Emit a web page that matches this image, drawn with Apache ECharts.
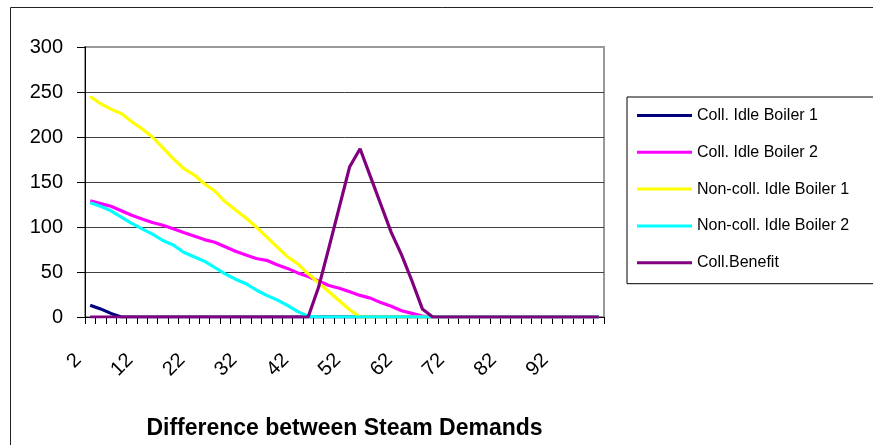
<!DOCTYPE html>
<html>
<head>
<meta charset="utf-8">
<script src="https://cdn.jsdelivr.net/npm/echarts@6/dist/echarts.min.js"></script>
<style>
  html, body { margin: 0; padding: 0; background: #ffffff; }
  #chart { width: 873px; height: 445px; }
</style>
</head>
<body>
<div id="chart"></div>
<script>
// Difference between steam demands (category axis)
const categories = [2,4,6,8,10,12,14,16,18,20,22,24,26,28,30,32,34,36,38,40,
  42,44,46,48,50,52,54,56,58,60,62,64,66,68,70,72,74,76,78,80,
  82,84,86,88,90,92,94,96,98,100];

const collIdleBoiler1 = [13,9,4,0,0,0,0,0,0,0,0,0,0,0,0,0,0,0,0,0,
  0,0,0,0,0,0,0,0,0,0,0,0,0,0,0,0,0,0,0,0,
  0,0,0,0,0,0,0,0,0,0];

const collIdleBoiler2 = [129,126,123,118,113,109,105,102,98,94,90,86,83,78,73,69,65,63,58,54,
  49,45,40,35,32,28,24,21,16,12,7,4,1,0,0,0,0,0,0,0,
  0,0,0,0,0,0,0,0,0,0];

const nonCollIdleBoiler1 = [245,237,231,226,217,209,200,188,176,165,158,148,140,128,119,110,100,89,78,67,
  59,48,38,28,18,8,0,0,0,0,0,0,0,0,0,0,0,0,0,0,
  0,0,0,0,0,0,0,0,0,0];

const nonCollIdleBoiler2 = [127,123,118,111,104,98,92,85,80,72,67,62,55,48,42,37,30,24,19,13,
  6,1,0,0,0,0,0,0,0,0,0,0,0,0,0,0,0,0,0,0,
  0,0,0,0,0,0,0,0,0,0];

const collBenefit = [0,0,0,0,0,0,0,0,0,0,0,0,0,0,0,0,0,0,0,0,
  0,0,33,77,122,167,187,156,125,94,69,40,9,0,0,0,0,0,0,0,
  0,0,0,0,0,0,0,0,0,0];

const yTicks = { min: 0, max: 300, step: 50 };

const seriesDefs = [
  { name: 'Coll. Idle Boiler 1', data: collIdleBoiler1, color: '#000080' },
  { name: 'Coll. Idle Boiler 2', data: collIdleBoiler2, color: '#FF00FF' },
  { name: 'Non-coll. Idle Boiler 1', data: nonCollIdleBoiler1, color: '#FFFF00' },
  { name: 'Non-coll. Idle Boiler 2', data: nonCollIdleBoiler2, color: '#00FFFF' },
  { name: 'Coll.Benefit', data: collBenefit, color: '#800080' }
];

const FONT = '"Liberation Sans", Arial, sans-serif';
const chart = echarts.init(document.getElementById('chart'), null, { renderer: 'canvas' });

chart.setOption({
  backgroundColor: '#ffffff',
  animation: false,
  textStyle: { fontFamily: FONT },
  graphic: [{
    type: 'rect',
    left: 8, top: 5,
    shape: { width: 1000, height: 600 },
    style: { fill: 'none', stroke: '#222', lineWidth: 1 },
    silent: true, z: 0
  }],
  grid: {
    left: 85, top: 47, width: 519, height: 270,
    containLabel: false,
    outerBoundsMode: 'none',
    show: true, borderColor: '#999', borderWidth: 2, backgroundColor: 'transparent'
  },
  legend: {
    orient: 'vertical',
    left: 627, top: 97,
    padding: [10.5, 40, 13, 10],
    icon: 'rect',
    itemWidth: 55, itemHeight: 3, itemGap: 20.8,
    borderColor: '#000', borderWidth: 1,
    textStyle: { fontFamily: FONT, fontSize: 16, color: '#000', lineHeight: 16 },
    data: seriesDefs.map(s => s.name)
  },
  xAxis: {
    type: 'category',
    data: categories,
    boundaryGap: true,
    name: 'Difference between Steam Demands',
    nameLocation: 'middle',
    nameGap: 100,
    nameTextStyle: { fontFamily: FONT, fontSize: 23, fontWeight: 'bold', color: '#000' },
    axisLine: { lineStyle: { color: '#000', width: 1 } },
    axisTick: { show: true, interval: 0, length: 7, lineStyle: { color: '#000' } },
    axisLabel: {
      interval: 4, rotate: 45, margin: 28,
      padding: [0, 17, 33, 0],
      fontFamily: FONT, fontSize: 20, color: '#000'
    },
    splitLine: { show: false }
  },
  yAxis: {
    type: 'value',
    min: yTicks.min, max: yTicks.max, interval: yTicks.step,
    axisLine: { show: true, lineStyle: { color: '#000', width: 1 } },
    axisTick: { show: true, length: 8, lineStyle: { color: '#000' } },
    axisLabel: { margin: 22, fontFamily: FONT, fontSize: 20, color: '#000' },
    splitLine: { show: true, showMaxLine: false, lineStyle: { color: '#404040', width: 1 } }
  },
  series: seriesDefs.map(s => ({
    name: s.name,
    type: 'line',
    data: s.data,
    symbol: 'none',
    color: s.color,
    lineStyle: { color: s.color, width: 3.2 },
    itemStyle: { color: s.color }
  }))
});
</script>
</body>
</html>
